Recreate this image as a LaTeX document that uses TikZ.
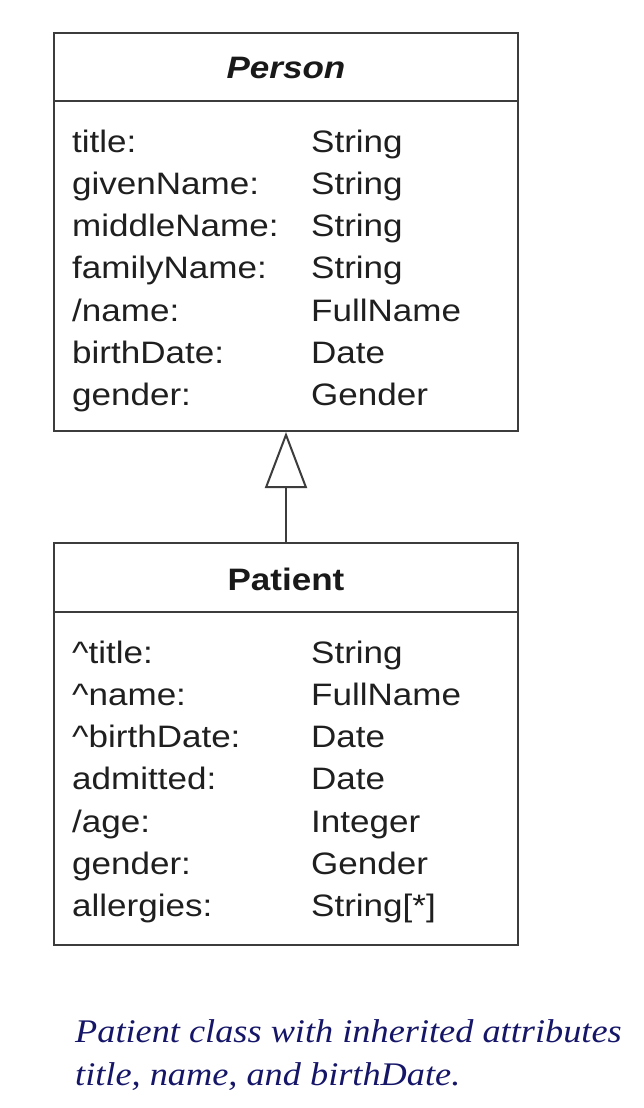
\documentclass[tikz,border=0pt]{standalone}
\usepackage{fontspec}
\usetikzlibrary{arrows.meta}
\newfontfamily\umlfont[FakeStretch=1.13]{Liberation Sans}
\newfontfamily\capfont[FakeStretch=1.1]{Liberation Serif}
\definecolor{boxline}{RGB}{60,60,60}
\definecolor{captioncol}{RGB}{22,22,105}
\begin{document}
\begin{tikzpicture}[x=1pt,y=-1pt,
  classbox/.style={draw=boxline, line width=2pt, rectangle, inner sep=0pt, minimum width=464pt},
  sep/.style={draw=boxline, line width=2pt},
  attr/.style={anchor=base west, inner sep=0pt, font=\umlfont\fontsize{31}{31}\selectfont, text=black!88},
  hdr/.style={anchor=base, inner sep=0pt, font=\umlfont\fontsize{31}{31}\selectfont\bfseries, text=black!90},
  caption/.style={anchor=base west, inner sep=0pt, font=\capfont\fontsize{33}{33}\selectfont\itshape, text=captioncol},
  genarrow/.style={draw=boxline, line width=2pt, -{Triangle[open, length=56pt, width=42pt, line width=2pt]}}
]
\useasboundingbox (0,0) rectangle (643,1108);
\fill[white] (0,0) rectangle (643,1108);

% Person
\node[classbox, minimum height=398pt] (person) at (286,232) {};
\draw[sep] (54,101) -- (518,101);
\node[hdr, font=\umlfont\fontsize{31}{31}\selectfont\bfseries\itshape] (personname) at (286,78) {Person};
\foreach \n/\a/\t [count=\i from 0] in {
  ptitle/{title:}/String,
  pgiven/{givenName:}/String,
  pmiddle/{middleName:}/String,
  pfamily/{familyName:}/String,
  pname/{/name:}/FullName,
  pbirth/{birthDate:}/Date,
  pgender/{gender:}/Gender}{
  \node[attr] (\n a) at (72,152+42.3*\i) {\a};
  \node[attr] (\n t) at (311,152+42.3*\i) {\t};
}

% Patient
\node[classbox, minimum height=402pt] (patient) at (286,744) {};
\draw[sep] (54,612) -- (518,612);
\node[hdr] (patientname) at (286,590) {Patient};
\foreach \n/\a/\t [count=\i from 0] in {
  qtitle/{\textasciicircum title:}/String,
  qname/{\textasciicircum name:}/FullName,
  qbirth/{\textasciicircum birthDate:}/Date,
  qadm/{admitted:}/Date,
  qage/{/age:}/Integer,
  qgender/{gender:}/Gender,
  qall/{allergies:}/{String[*]}}{
  \node[attr] (\n a) at (72,663+42.3*\i) {\a};
  \node[attr] (\n t) at (311,663+42.3*\i) {\t};
}

% generalization
\draw[genarrow] (patient.north) -- (person.south);

% caption
\node[caption] (cap1) at (75,1042) {Patient class with inherited attributes};
\node[caption] (cap2) at (75,1085) {title, name, and birthDate.};
\end{tikzpicture}
\end{document}
